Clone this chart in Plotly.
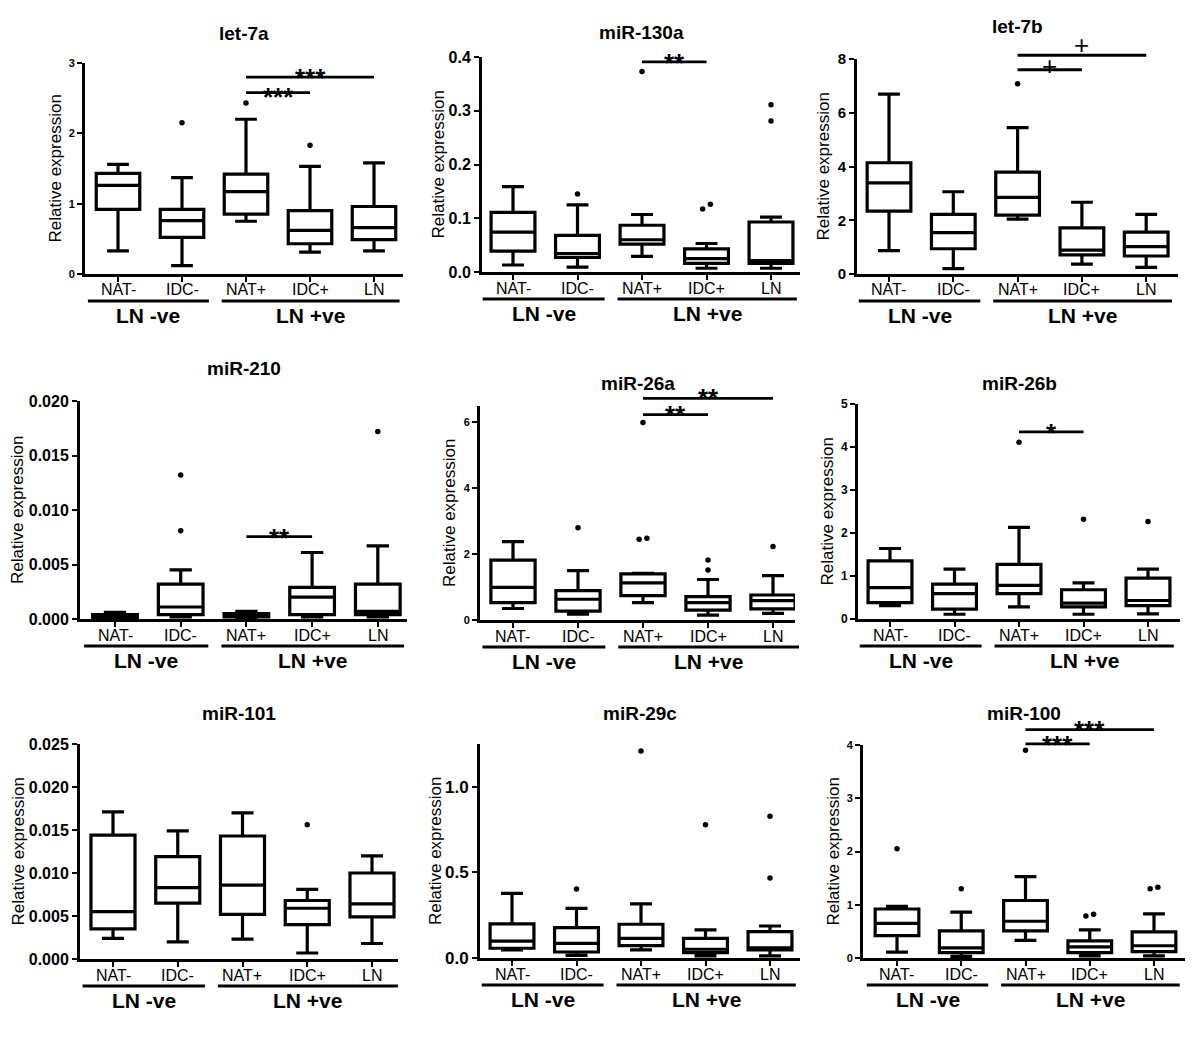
import plotly.graph_objects as go

PAGE_W, PAGE_H = 1200, 1037
BODY_MARGIN = 8                      # the html body margin shifts the figure
W, H = PAGE_W - BODY_MARGIN, PAGE_H - BODY_MARGIN
FONT = "Liberation Sans"

CATEGORIES = ["NAT-", "IDC-", "NAT+", "IDC+", "LN"]
GROUP_LABELS = ["LN -ve", "LN +ve"]
Y_TITLE = "Relative expression"

# ---------------- data ----------------
# let-7a
LET7A_LOW = [0.33, 0.12, 0.75, 0.31, 0.33]
LET7A_Q1 = [0.92, 0.52, 0.85, 0.43, 0.49]
LET7A_MED = [1.26, 0.76, 1.17, 0.62, 0.66]
LET7A_Q3 = [1.43, 0.92, 1.42, 0.90, 0.96]
LET7A_HIGH = [1.56, 1.37, 2.20, 1.53, 1.58]
LET7A_OUT_CAT = ["IDC-", "NAT+", "IDC+"]
LET7A_OUT_VAL = [2.15, 2.43, 1.83]
LET7A_TICKS = [0, 1, 2, 3]
LET7A_TICKTEXT = ["0", "1", "2", "3"]
LET7A_SIG = [("NAT+", "LN", 2.80, 2.89, "***"), ("NAT+", "IDC+", 2.58, 2.62, "***")]

# miR-130a
MIR130A_LOW = [0.013, 0.009, 0.029, 0.007, 0.007]
MIR130A_Q1 = [0.039, 0.027, 0.052, 0.016, 0.016]
MIR130A_MED = [0.074, 0.034, 0.060, 0.025, 0.021]
MIR130A_Q3 = [0.111, 0.068, 0.087, 0.043, 0.093]
MIR130A_HIGH = [0.159, 0.125, 0.107, 0.053, 0.102]
MIR130A_OUT_CAT = ["IDC-", "NAT+", "IDC+", "IDC+", "LN", "LN"]
MIR130A_OUT_VAL = [0.145, 0.373, 0.117, 0.126, 0.311, 0.281]
MIR130A_TICKS = [0, 0.1, 0.2, 0.3, 0.4]
MIR130A_TICKTEXT = ["0.0", "0.1", "0.2", "0.3", "0.4"]
MIR130A_SIG = [("NAT+", "IDC+", 0.391, 0.401, "**")]

# let-7b
LET7B_LOW = [0.87, 0.20, 2.04, 0.37, 0.25]
LET7B_Q1 = [2.34, 0.94, 2.19, 0.71, 0.67]
LET7B_MED = [3.39, 1.54, 2.85, 0.89, 1.02]
LET7B_Q3 = [4.14, 2.22, 3.79, 1.72, 1.56]
LET7B_HIGH = [6.69, 3.06, 5.45, 2.67, 2.22]
LET7B_OUT_CAT = ["NAT+"]
LET7B_OUT_VAL = [7.08]
LET7B_TICKS = [0, 2, 4, 6, 8]
LET7B_TICKTEXT = ["0", "2", "4", "6", "8"]
LET7B_SIG = [("NAT+", "LN", 8.14, 8.53, "+"), ("NAT+", "IDC+", 7.60, 7.73, "+")]

# miR-210
MIR210_LOW = [0.00005, 0.0002, 0.0001, 0.0002, 0.0002]
MIR210_Q1 = [0.0001, 0.0004, 0.0002, 0.0004, 0.0004]
MIR210_MED = [0.0003, 0.0011, 0.0004, 0.0020, 0.0007]
MIR210_Q3 = [0.0004, 0.0032, 0.0005, 0.0029, 0.0032]
MIR210_HIGH = [0.0006, 0.0045, 0.0007, 0.0061, 0.0067]
MIR210_OUT_CAT = ["IDC-", "IDC-", "LN"]
MIR210_OUT_VAL = [0.0132, 0.0081, 0.0172]
MIR210_TICKS = [0, 0.005, 0.010, 0.015, 0.020]
MIR210_TICKTEXT = ["0.000", "0.005", "0.010", "0.015", "0.020"]
MIR210_SIG = [("NAT+", "IDC+", 0.00756, 0.0081, "**")]

# miR-26a
MIR26A_LOW = [0.35, 0.18, 0.53, 0.15, 0.20]
MIR26A_Q1 = [0.53, 0.27, 0.74, 0.30, 0.34]
MIR26A_MED = [0.99, 0.63, 1.13, 0.53, 0.59]
MIR26A_Q3 = [1.82, 0.89, 1.40, 0.71, 0.76]
MIR26A_HIGH = [2.38, 1.50, 1.42, 1.23, 1.35]
MIR26A_OUT_CAT = ["IDC-", "NAT+", "NAT+", "NAT+", "IDC+", "IDC+", "LN"]
MIR26A_OUT_VAL = [2.80, 6.00, 2.45, 2.48, 1.82, 1.52, 2.23]
MIR26A_TICKS = [0, 2, 4, 6]
MIR26A_TICKTEXT = ["0", "2", "4", "6"]
MIR26A_SIG = [("NAT+", "LN", 6.73, 6.95, "**"), ("NAT+", "IDC+", 6.24, 6.43, "**")]

# miR-26b
MIR26B_LOW = [0.31, 0.11, 0.28, 0.11, 0.12]
MIR26B_Q1 = [0.38, 0.23, 0.59, 0.28, 0.31]
MIR26B_MED = [0.73, 0.59, 0.78, 0.37, 0.43]
MIR26B_Q3 = [1.35, 0.81, 1.27, 0.68, 0.95]
MIR26B_HIGH = [1.64, 1.16, 2.13, 0.84, 1.16]
MIR26B_OUT_CAT = ["NAT+", "IDC+", "LN"]
MIR26B_OUT_VAL = [4.11, 2.32, 2.27]
MIR26B_TICKS = [0, 1, 2, 3, 4, 5]
MIR26B_TICKTEXT = ["0", "1", "2", "3", "4", "5"]
MIR26B_SIG = [("NAT+", "IDC+", 4.35, 4.49, "*")]

# miR-101
MIR101_LOW = [0.0024, 0.0020, 0.0023, 0.0007, 0.0018]
MIR101_Q1 = [0.0035, 0.0065, 0.0052, 0.0040, 0.0049]
MIR101_MED = [0.0055, 0.0083, 0.0086, 0.0059, 0.0064]
MIR101_Q3 = [0.0144, 0.0119, 0.0143, 0.0068, 0.0100]
MIR101_HIGH = [0.0171, 0.0149, 0.0170, 0.0081, 0.0120]
MIR101_OUT_CAT = ["IDC+"]
MIR101_OUT_VAL = [0.0156]
MIR101_TICKS = [0, 0.005, 0.010, 0.015, 0.020, 0.025]
MIR101_TICKTEXT = ["0.000", "0.005", "0.010", "0.015", "0.020", "0.025"]
MIR101_SIG = []

# miR-29c
MIR29C_LOW = [0.047, 0.015, 0.047, 0.012, 0.012]
MIR29C_Q1 = [0.057, 0.035, 0.072, 0.031, 0.047]
MIR29C_MED = [0.099, 0.086, 0.115, 0.051, 0.060]
MIR29C_Q3 = [0.199, 0.177, 0.197, 0.115, 0.154]
MIR29C_HIGH = [0.378, 0.290, 0.316, 0.164, 0.187]
MIR29C_OUT_CAT = ["IDC-", "NAT+", "IDC+", "LN", "LN"]
MIR29C_OUT_VAL = [0.403, 1.209, 0.778, 0.828, 0.468]
MIR29C_TICKS = [0, 0.5, 1.0]
MIR29C_TICKTEXT = ["0.0", "0.5", "1.0"]
MIR29C_SIG = []

# miR-100
MIR100_LOW = [0.11, 0.03, 0.33, 0.04, 0.04]
MIR100_Q1 = [0.42, 0.10, 0.51, 0.10, 0.12]
MIR100_MED = [0.65, 0.19, 0.69, 0.21, 0.23]
MIR100_Q3 = [0.92, 0.51, 1.08, 0.32, 0.49]
MIR100_HIGH = [0.97, 0.86, 1.53, 0.53, 0.83]
MIR100_OUT_CAT = ["NAT-", "IDC-", "NAT+", "IDC+", "IDC+", "LN", "LN"]
MIR100_OUT_VAL = [2.05, 1.30, 3.90, 0.79, 0.82, 1.30, 1.33]
MIR100_TICKS = [0, 1, 2, 3, 4]
MIR100_TICKTEXT = ["0", "1", "2", "3", "4"]
MIR100_SIG = [("NAT+", "LN", 4.29, 4.41, "***"), ("NAT+", "IDC+", 4.02, 4.14, "***")]

PANELS = [
    ("let-7a", LET7A_LOW, LET7A_Q1, LET7A_MED, LET7A_Q3, LET7A_HIGH, LET7A_OUT_CAT, LET7A_OUT_VAL, LET7A_TICKS, LET7A_TICKTEXT, LET7A_SIG),
    ("miR-130a", MIR130A_LOW, MIR130A_Q1, MIR130A_MED, MIR130A_Q3, MIR130A_HIGH, MIR130A_OUT_CAT, MIR130A_OUT_VAL, MIR130A_TICKS, MIR130A_TICKTEXT, MIR130A_SIG),
    ("let-7b", LET7B_LOW, LET7B_Q1, LET7B_MED, LET7B_Q3, LET7B_HIGH, LET7B_OUT_CAT, LET7B_OUT_VAL, LET7B_TICKS, LET7B_TICKTEXT, LET7B_SIG),
    ("miR-210", MIR210_LOW, MIR210_Q1, MIR210_MED, MIR210_Q3, MIR210_HIGH, MIR210_OUT_CAT, MIR210_OUT_VAL, MIR210_TICKS, MIR210_TICKTEXT, MIR210_SIG),
    ("miR-26a", MIR26A_LOW, MIR26A_Q1, MIR26A_MED, MIR26A_Q3, MIR26A_HIGH, MIR26A_OUT_CAT, MIR26A_OUT_VAL, MIR26A_TICKS, MIR26A_TICKTEXT, MIR26A_SIG),
    ("miR-26b", MIR26B_LOW, MIR26B_Q1, MIR26B_MED, MIR26B_Q3, MIR26B_HIGH, MIR26B_OUT_CAT, MIR26B_OUT_VAL, MIR26B_TICKS, MIR26B_TICKTEXT, MIR26B_SIG),
    ("miR-101", MIR101_LOW, MIR101_Q1, MIR101_MED, MIR101_Q3, MIR101_HIGH, MIR101_OUT_CAT, MIR101_OUT_VAL, MIR101_TICKS, MIR101_TICKTEXT, MIR101_SIG),
    ("miR-29c", MIR29C_LOW, MIR29C_Q1, MIR29C_MED, MIR29C_Q3, MIR29C_HIGH, MIR29C_OUT_CAT, MIR29C_OUT_VAL, MIR29C_TICKS, MIR29C_TICKTEXT, MIR29C_SIG),
    ("miR-100", MIR100_LOW, MIR100_Q1, MIR100_MED, MIR100_Q3, MIR100_HIGH, MIR100_OUT_CAT, MIR100_OUT_VAL, MIR100_TICKS, MIR100_TICKTEXT, MIR100_SIG),
]

# ---------------- layout geometry (page pixels) ----------------
# axis_left, axis_right, first_category_px, category_step_px,
# axis_top_px, axis_top_value, axis_zero_px, tick_font_size, y_title_px, title_px
FRAMES = [
    (85, 403, 118, 64.0, 63, 3, 274, 11, 55, 33),
    (482, 800, 513, 64.5, 57, 0.4, 272, 16, 438, 32),
    (857, 1178, 889, 64.3, 59, 8, 274, 15, 823, 27),
    (80, 407, 115, 65.7, 401, 0.020, 619, 16, 17, 368),
    (480, 795, 513, 65.0, 406, 6.5, 620, 11, 450, 383),
    (858, 1180, 890, 64.5, 404, 5, 619, 12, 827, 383),
    (80, 398, 113, 64.75, 744, 0.025, 959, 16, 18, 713),
    (480, 800, 512, 64.5, 744, 1.25, 958, 17, 435, 713),
    (863, 1185, 897, 64.25, 745, 4, 958, 11, 833, 713),
]
GROUP_SPANS = [(-0.47, 1.42), (1.62, 4.40)]   # in category units
CAT_LABEL_OFFSET = 16     # px below x axis (label centre)
GROUP_LINE_OFFSET = 27    # px below x axis
GROUP_LABEL_OFFSET = 41   # px below x axis

BOX_WIDTH = 0.68
LINE_W = 3.2


def px_x(px):
    return (px - BODY_MARGIN) / W


def px_y(py):
    return 1 - (py - BODY_MARGIN) / H


fig = go.Figure()
shapes = []
annotations = []
layout_axes = {}

for k, (panel, frame) in enumerate(zip(PANELS, FRAMES), start=1):
    (name, low, q1, med, q3, high, out_cat, out_val, ticks, ticktext, sig) = panel
    (xl, xr, c0, step, ytop_px, ytop_val, y0_px, tfs, ytitle_px, title_px) = frame
    xr0 = (xl - c0) / step
    xr1 = (xr - c0) / step
    xdom = [px_x(xl), min(px_x(xr), 1.0)]
    ydom = [px_y(y0_px), px_y(ytop_px)]
    xa = "x" if k == 1 else f"x{k}"
    ya = "y" if k == 1 else f"y{k}"
    xkey = "xaxis" if k == 1 else f"xaxis{k}"
    ykey = "yaxis" if k == 1 else f"yaxis{k}"

    def xpaper(v, xdom=xdom, xr0=xr0, xr1=xr1):
        return xdom[0] + (v - xr0) / (xr1 - xr0) * (xdom[1] - xdom[0])

    def ypaper(v, ydom=ydom, ytop_val=ytop_val):
        return ydom[0] + v / ytop_val * (ydom[1] - ydom[0])

    pos = list(range(len(CATEGORIES)))
    fig.add_trace(go.Box(
        x=pos, q1=q1, median=med, q3=q3, lowerfence=low, upperfence=high,
        xaxis=xa, yaxis=ya, width=BOX_WIDTH, whiskerwidth=0.5,
        line=dict(color="black", width=LINE_W), fillcolor="white",
        boxpoints=False, showlegend=False, hoverinfo="skip",
    ))

    # outliers: spread close pairs side by side like GraphPad does
    ox = []
    for i, (c, v) in enumerate(zip(out_cat, out_val)):
        base = CATEGORIES.index(c)
        off = 0.0
        for j, (c2, v2) in enumerate(zip(out_cat, out_val)):
            if j != i and c2 == c and abs(v2 - v) < 0.04 * ytop_val:
                off = -0.06 if v < v2 else 0.06
        ox.append(base + off)
    fig.add_trace(go.Scatter(
        x=ox, y=out_val, xaxis=xa, yaxis=ya, mode="markers",
        marker=dict(color="black", size=5.5), showlegend=False, hoverinfo="skip",
        cliponaxis=False,
    ))

    layout_axes[xkey] = dict(
        domain=xdom, range=[xr0, xr1], anchor=ya, automargin=False,
        tickmode="array", tickvals=pos, showticklabels=False,
        showline=True, linecolor="black", linewidth=3,
        ticks="outside", ticklen=5, tickwidth=2, tickcolor="black",
        showgrid=False, zeroline=False,
    )
    layout_axes[ykey] = dict(
        domain=ydom, range=[0, ytop_val], anchor=xa, automargin=False,
        tickmode="array", tickvals=ticks, ticktext=ticktext,
        showline=True, linecolor="black", linewidth=3,
        ticks="outside", ticklen=5, tickwidth=2, tickcolor="black",
        showgrid=False, zeroline=False,
        tickfont=dict(family=FONT, size=tfs, color="black", weight="bold"),
    )

    # category labels
    cy = px_y(y0_px + CAT_LABEL_OFFSET)
    for i, c in enumerate(CATEGORIES):
        annotations.append(dict(
            text=c, xref="paper", yref="paper", x=xpaper(i), y=cy,
            xanchor="center", yanchor="middle", showarrow=False,
            font=dict(family=FONT, size=16, color="black"),
        ))
    # title
    annotations.append(dict(
        text=name, xref="paper", yref="paper", x=(xdom[0] + xdom[1]) / 2,
        y=px_y(title_px), xanchor="center", yanchor="middle", showarrow=False,
        font=dict(family=FONT, size=19, color="black", weight="bold"),
    ))
    # y title
    annotations.append(dict(
        text=Y_TITLE, xref="paper", yref="paper", x=px_x(ytitle_px),
        y=(ydom[0] + ydom[1]) / 2, xanchor="center", yanchor="middle",
        textangle=-90, showarrow=False,
        font=dict(family=FONT, size=17, color="black"),
    ))
    # group lines and labels
    gy_line = px_y(y0_px + GROUP_LINE_OFFSET)
    gy_lab = px_y(y0_px + GROUP_LABEL_OFFSET)
    for (a, b), lab in zip(GROUP_SPANS, GROUP_LABELS):
        shapes.append(dict(type="line", xref="paper", yref="paper",
                           x0=xpaper(a), x1=xpaper(b), y0=gy_line, y1=gy_line,
                           line=dict(color="black", width=3)))
        annotations.append(dict(
            text=lab, xref="paper", yref="paper", x=(xpaper(a) + xpaper(b)) / 2,
            y=gy_lab, xanchor="center", yanchor="middle", showarrow=False,
            font=dict(family=FONT, size=21, color="black", weight="bold"),
        ))
    # significance bars
    for (ca, cb, bar_y, lab_y, lab) in sig:
        ia, ib = CATEGORIES.index(ca), CATEGORIES.index(cb)
        shapes.append(dict(type="line", xref="paper", yref="paper",
                           x0=xpaper(ia), x1=xpaper(ib), y0=ypaper(bar_y), y1=ypaper(bar_y),
                           line=dict(color="black", width=2.8)))
        if lab == "+":
            f = dict(family=FONT, size=26, color="black")
            ys = 0
        else:
            f = dict(family=FONT, size=26, color="black", weight="bold")
            ys = -7
        annotations.append(dict(
            text=lab, xref="paper", yref="paper", x=xpaper((ia + ib) / 2), y=ypaper(lab_y),
            xanchor="center", yanchor="middle", yshift=ys, showarrow=False, font=f,
        ))

fig.update_layout(
    width=W, height=H, margin=dict(l=0, r=0, t=0, b=0, autoexpand=False),
    paper_bgcolor="white", plot_bgcolor="white",
    showlegend=False, shapes=shapes, annotations=annotations,
    font=dict(family=FONT, color="black"),
    **layout_axes,
)

fig.write_html("out.html")
